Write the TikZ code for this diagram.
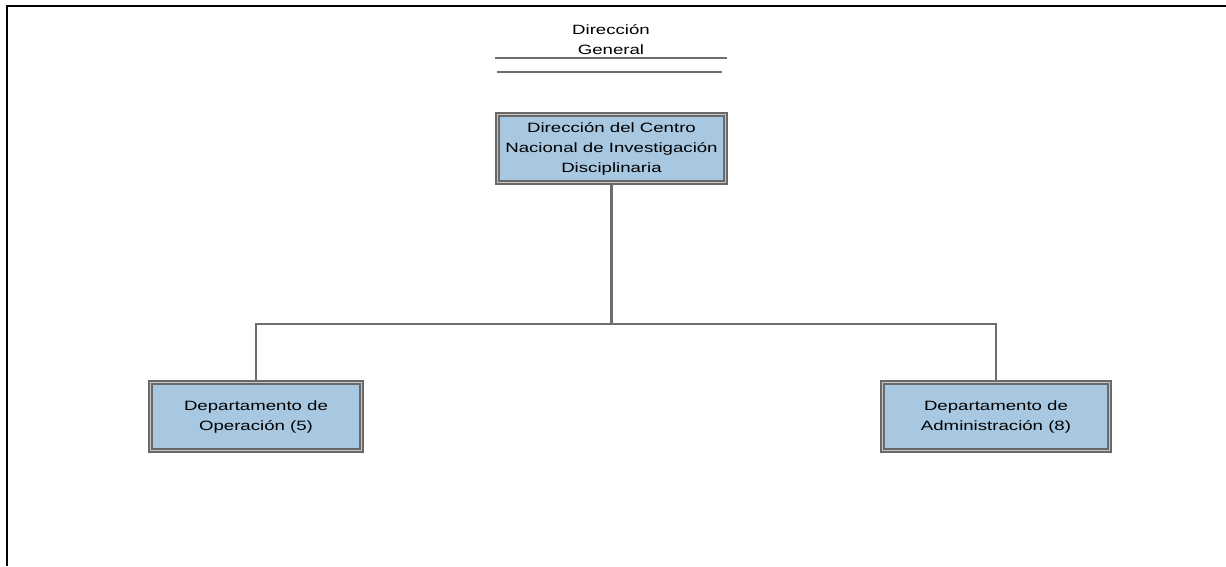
\documentclass[tikz,border=0pt]{standalone}
\usepackage{fontspec}
\setmainfont[FakeStretch=1.38]{Liberation Sans}
\definecolor{cajaazul}{RGB}{168,200,226}
\definecolor{bordegris}{RGB}{105,105,105}
\definecolor{lineagris}{RGB}{110,110,110}
\begin{document}
\begin{tikzpicture}[x=1pt,y=-1pt,
		caja/.style={draw=bordegris, double=gray!45, line width=2pt, double distance=0.9pt,
			fill=cajaazul, align=center, inner sep=0pt, minimum height=68pt,
			font=\fontsize{13.5}{20}\selectfont},
		enlace/.style={draw=lineagris, line width=2.2pt}]
	\useasboundingbox (0,0) rectangle (1226,566);
	% marco
	\draw[line width=2pt] (7,566) -- (7,6) -- (1226,6);
	% direccion general
	\node[align=center, font=\fontsize{13.5}{20}\selectfont] (dg) at (611,40) {Dirección\\General};
	\draw[lineagris, line width=1.3pt] (495,58) -- (727,58);
	\draw[lineagris, line width=1.3pt] (497,72) -- (722,72);
	% cajas
	\node[caja, minimum width=228pt] (dcnid) at (611.5,148.5) {Dirección del Centro\\Nacional de Investigación\\Disciplinaria};
	\node[caja, minimum width=211pt] (dop) at (256,416.5) {Departamento de\\Operación (5)};
	\node[caja, minimum width=227pt] (dadm) at (996,416.5) {Departamento de\\Administración (8)};
	% conexiones
	\coordinate (bus) at (611.5,324);
	\draw[enlace] (dcnid.south) -- (bus);
	\draw[enlace] (dop.north) |- (bus) -| (dadm.north);
\end{tikzpicture}
\end{document}
